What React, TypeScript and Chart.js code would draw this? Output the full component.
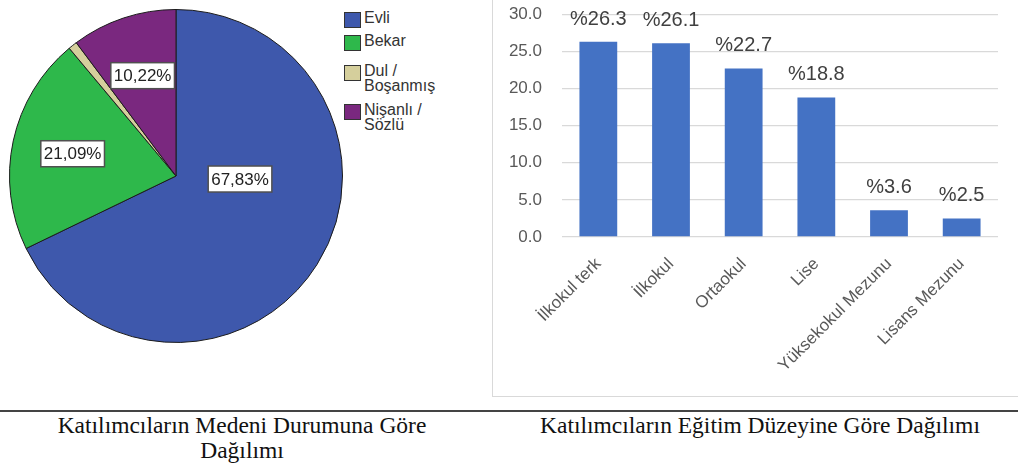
import React, { useEffect, useRef } from "react";
import { Chart, registerables } from "chart.js";

Chart.register(...registerables);

// ---------- Data: marital status (pie) ----------
const maritalLabels = ["Evli", "Bekar", "Dul / Boşanmış", "Nişanlı / Sözlü"];
const maritalLegendLines = [["Evli"], ["Bekar"], ["Dul /", "Boşanmış"], ["Nişanlı /", "Sözlü"]];
const maritalValues = [67.83, 21.09, 0.86, 10.22];
const maritalColors = ["#3E58AC", "#2EB84B", "#D5CF9C", "#7A287F"];

// ---------- Data: education (bar) ----------
const eduLabels = ["İlkokul terk", "İlkokul", "Ortaokul", "Lise", "Yüksekokul Mezunu", "Lisans Mezunu"];
const eduValues = [26.3, 26.1, 22.7, 18.8, 3.6, 2.5];
const eduTickMin = 0;
const eduTickMax = 30;
const eduTickStep = 5;

const captionLeft = ["Katılımcıların Medeni Durumuna Göre", "Dağılımı"];
const captionRight = "Katılımcıların Eğitim Düzeyine Göre Dağılımı";

const SANS = "'Liberation Sans', Arial, sans-serif";
const SERIF = "'Liberation Serif', 'Times New Roman', serif";

// label placement inside slices (fraction of radius, angular shift in rad)
const PIE_LABEL_MIN = 2;
const PIE_LABEL_R = 0.635;
const PIE_LABEL_PLACE: Array<{ shift?: number; r?: number }> = [{ shift: -0.513, r: 0.385 }, {}, {}, {}];

const pieLabelPlugin = {
  id: "pieLabelsCustom",
  afterDatasetsDraw(chart: any) {
    const ctx = chart.ctx;
    const meta = chart.getDatasetMeta(0);
    const data = chart.data.datasets[0].data as number[];
    meta.data.forEach((arc: any, i: number) => {
      const v = data[i];
      if (v < PIE_LABEL_MIN) return;
      const p = arc.getProps(["x", "y", "startAngle", "endAngle", "outerRadius"], true);
      const place = PIE_LABEL_PLACE[i] || {};
      const mid = (p.startAngle + p.endAngle) / 2 + (place.shift || 0);
      const r = p.outerRadius * (place.r !== undefined ? place.r : PIE_LABEL_R);
      const cx = p.x + Math.cos(mid) * r;
      const cy = p.y + Math.sin(mid) * r;
      const text = v.toFixed(2).replace(".", ",") + "%";
      ctx.save();
      ctx.font = `17px ${SANS}`;
      const w = ctx.measureText(text).width + 6;
      const h = 26;
      ctx.fillStyle = "#ffffff";
      ctx.fillRect(cx - w / 2, cy - h / 2, w, h);
      ctx.lineWidth = 1.5;
      ctx.strokeStyle = "#505050";
      ctx.strokeRect(cx - w / 2, cy - h / 2, w, h);
      ctx.fillStyle = "#222222";
      ctx.textAlign = "center";
      ctx.textBaseline = "middle";
      ctx.fillText(text, cx, cy + 1);
      ctx.restore();
    });
  },
};

const barLabelPlugin = {
  id: "barLabelsCustom",
  afterDatasetsDraw(chart: any) {
    const ctx = chart.ctx;
    const meta = chart.getDatasetMeta(0);
    const data = chart.data.datasets[0].data as number[];
    ctx.save();
    ctx.font = `20px ${SANS}`;
    ctx.fillStyle = "#404040";
    ctx.textAlign = "center";
    ctx.textBaseline = "alphabetic";
    meta.data.forEach((bar: any, i: number) => {
      ctx.fillText("%" + data[i].toFixed(1), bar.x, bar.y - 17);
    });
    ctx.restore();
  },
};

function PieChart() {
  const ref = useRef<HTMLCanvasElement | null>(null);
  useEffect(() => {
    if (!ref.current) return;
    const chart = new Chart(ref.current, {
      type: "pie",
      data: {
        labels: maritalLabels,
        datasets: [
          {
            data: maritalValues,
            backgroundColor: maritalColors,
            borderColor: "#1c1c1c",
            borderWidth: 1,
          },
        ],
      },
      options: {
        animation: false,
        responsive: false,
        maintainAspectRatio: false,
        layout: { padding: 0 },
        plugins: {
          legend: { display: false },
          tooltip: { enabled: false },
        },
      },
      plugins: [pieLabelPlugin],
    });
    return () => chart.destroy();
  }, []);
  return (
    <canvas
      ref={ref}
      width={334}
      height={334}
      style={{ position: "absolute", left: 9, top: 9, width: 334, height: 334 }}
    />
  );
}

function BarChart() {
  const ref = useRef<HTMLCanvasElement | null>(null);
  useEffect(() => {
    if (!ref.current) return;
    const chart = new Chart(ref.current, {
      type: "bar",
      data: {
        labels: eduLabels,
        datasets: [
          {
            data: eduValues,
            backgroundColor: "#4472C4",
            borderWidth: 0,
            barPercentage: 0.52,
            categoryPercentage: 1,
          },
        ],
      },
      options: {
        animation: false,
        responsive: false,
        maintainAspectRatio: false,
        layout: { padding: { top: 14, right: 20, bottom: 0, left: 0 } },
        plugins: { legend: { display: false }, tooltip: { enabled: false } },
        scales: {
          x: {
            grid: { display: false },
            border: { display: false },
            ticks: {
              minRotation: 45,
              maxRotation: 45,
              autoSkip: false,
              padding: 9,
              color: "#595959",
              font: { size: 17, family: SANS },
            },
            afterFit: (s: any) => {
              s.height = 159;
            },
          },
          y: {
            min: eduTickMin,
            max: eduTickMax,
            ticks: {
              stepSize: eduTickStep,
              padding: 20,
              color: "#595959",
              font: { size: 17, family: SANS },
              callback: (v: any) => Number(v).toFixed(1),
            },
            grid: { color: "#d9d9d9", lineWidth: 1.3, drawTicks: false },
            border: { display: false },
            afterFit: (s: any) => {
              s.width = 69;
            },
          },
        },
      },
      plugins: [barLabelPlugin],
    });
    return () => chart.destroy();
  }, []);
  return (
    <canvas
      ref={ref}
      width={525}
      height={412}
      style={{ position: "absolute", left: 493, top: -16, width: 525, height: 412 }}
    />
  );
}

function Legend() {
  const tops = [12, 35, 65, 104];
  return (
    <div>
      {maritalLegendLines.map((lines, i) => (
        <div key={i} style={{ position: "absolute", left: 344, top: tops[i] }}>
          <div
            style={{
              position: "absolute",
              left: 0,
              top: 0,
              width: 15,
              height: 14,
              background: maritalColors[i],
              border: "1px solid #333",
            }}
          />
          <div
            style={{
              position: "absolute",
              left: 20,
              top: -2,
              font: `16px ${SANS}`,
              lineHeight: "15px",
              color: "#333",
              whiteSpace: "nowrap",
            }}
          >
            {lines.map((l, j) => (
              <div key={j}>{l}</div>
            ))}
          </div>
        </div>
      ))}
    </div>
  );
}

export default function App() {
  return (
    <div
      style={{
        position: "fixed",
        left: 0,
        top: 0,
        width: 1018,
        height: 469,
        background: "#ffffff",
        overflow: "hidden",
      }}
    >
      <PieChart />
      <Legend />
      <div
        style={{
          position: "absolute",
          left: 492,
          top: -5,
          width: 700,
          height: 402,
          border: "1px solid #d9d9d9",
          boxSizing: "border-box",
        }}
      />
      <BarChart />
      <div
        style={{ position: "absolute", left: 0, top: 410, width: 1018, height: 2, background: "#444" }}
      />
      <div
        style={{
          position: "absolute",
          left: 10,
          top: 413,
          width: 464,
          textAlign: "center",
          font: `23.5px ${SERIF}`,
          lineHeight: "25px",
          color: "#111",
          whiteSpace: "nowrap",
        }}
      >
        {captionLeft.map((l, i) => (
          <div key={i}>{l}</div>
        ))}
      </div>
      <div
        style={{
          position: "absolute",
          left: 510,
          top: 413,
          width: 500,
          textAlign: "center",
          font: `23.5px ${SERIF}`,
          lineHeight: "25px",
          color: "#111",
          whiteSpace: "nowrap",
        }}
      >
        {captionRight}
      </div>
    </div>
  );
}
